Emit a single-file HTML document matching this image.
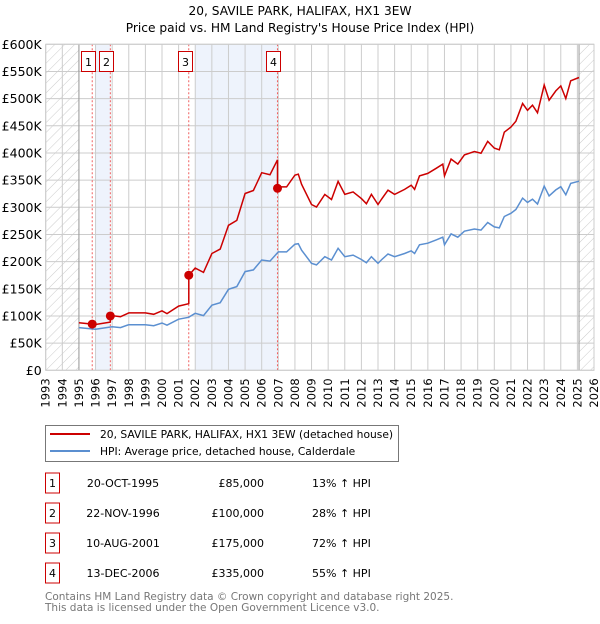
<!DOCTYPE html>
<html><head><meta charset="utf-8"><style>
body{margin:0;background:#fff;font-family:"DejaVu Sans","Liberation Sans",sans-serif;}
svg text{font-family:"DejaVu Sans","Liberation Sans",sans-serif;}
</style></head><body>
<svg id="chart" width="600" height="620" xmlns="http://www.w3.org/2000/svg">
<defs><pattern id="hatch" patternUnits="userSpaceOnUse" width="7" height="7" patternTransform="rotate(45)"><line x1="0" y1="0" x2="0" y2="7" stroke="#ccc" stroke-width="1"/></pattern></defs>
<text x="300" y="15" text-anchor="middle" font-size="12.2">20, SAVILE PARK, HALIFAX, HX1 3EW</text>
<text x="300" y="32" text-anchor="middle" font-size="12.2">Price paid vs. HM Land Registry's House Price Index (HPI)</text>
<g id="plot"></g>
<g>
<rect x="45.5" y="425.5" width="353" height="36" fill="#fff" stroke="#777"/>
<line x1="50" y1="434" x2="90" y2="434" stroke="#cc0000" stroke-width="2"/>
<text x="100" y="438" font-size="10.7">20, SAVILE PARK, HALIFAX, HX1 3EW (detached house)</text>
<line x1="50" y1="451" x2="90" y2="451" stroke="#5b8fd0" stroke-width="2"/>
<text x="100" y="455" font-size="10.7">HPI: Average price, detached house, Calderdale</text>
</g>
<g id="table" font-size="11"></g>
<text x="45" y="600" font-size="10.5" fill="#777">Contains HM Land Registry data © Crown copyright and database right 2025.</text>
<text x="45" y="611" font-size="10.5" fill="#777">This data is licensed under the Open Government Licence v3.0.</text>
</svg>
<script>
const hpiYears=[1995,1996,1997,1997.5,1998,1999,1999.5,2000,2000.3,2001,2001.6,2002,2002.5,2003,2003.5,2004,2004.5,2005,2005.5,2006,2006.5,2007,2007.5,2008,2008.2,2008.4,2009,2009.3,2009.8,2010.2,2010.6,2011,2011.5,2012,2012.3,2012.6,2013,2013.2,2013.6,2014,2014.6,2015,2015.2,2015.5,2016,2016.5,2016.9,2017,2017.4,2017.8,2018.2,2018.8,2019.2,2019.6,2020,2020.3,2020.6,2021,2021.3,2021.7,2022,2022.3,2022.6,2023,2023.3,2023.7,2024,2024.3,2024.6,2025.1];
const hpiValues=[78.5,75.5,80,78.5,84,84,82,87,83,94,97.5,105,100.6,120,124.5,149,154,181.6,184.7,203,201,218,218,232,233,221,197,194,209,203,224.5,209,212,204,198,209,197,203,214,209,215,220,215,231,234,240,245,231,251,245,256,260,258,272,264,262,283,289,296,317,309,315,306,339,321,332,338,323,344,348];
const saleLabels=["1","2","3","4"];
const saleYears=[1995.8,1996.89,2001.61,2006.95];
const salePrices=[85,100,175,335];
const saleDates=["20-OCT-1995","22-NOV-1996","10-AUG-2001","13-DEC-2006"];
const salePriceText=["£85,000","£100,000","£175,000","£335,000"];
const saleHpiText=["13% ↑ HPI","28% ↑ HPI","72% ↑ HPI","55% ↑ HPI"];
const yTicks=[0,50,100,150,200,250,300,350,400,450,500,550,600];
const yTickLabels=["£0","£50K","£100K","£150K","£200K","£250K","£300K","£350K","£400K","£450K","£500K","£550K","£600K"];

const NS="http://www.w3.org/2000/svg";
const X0=45.7,X1=594,Y0=370.3,Y1=44.3,YR0=1993,YR1=2026;
const xs=y=>X0+(y-YR0)/(YR1-YR0)*(X1-X0);
const ys=v=>Y0-v/600*(Y0-Y1);
function mk(tag,attrs,parent){const e=document.createElementNS(NS,tag);for(const k in attrs)e.setAttribute(k,attrs[k]);parent.appendChild(e);return e;}
function hpiAt(y){for(let i=0;i<hpiYears.length-1;i++){if(y>=hpiYears[i]&&y<=hpiYears[i+1]){const t=(y-hpiYears[i])/(hpiYears[i+1]-hpiYears[i]);return hpiValues[i]+t*(hpiValues[i+1]-hpiValues[i]);}}return hpiValues[hpiValues.length-1];}
const plot=document.getElementById('plot');
let r=mk('rect',{x:xs(1996),y:Y1,width:xs(saleYears[1])-xs(1996),height:Y0-Y1,fill:'#eef3fc'},plot);

r=mk('rect',{x:xs(2002),y:Y1,width:xs(saleYears[3])-xs(2002),height:Y0-Y1,fill:'#eef3fc'},plot);

for(let yr=YR0;yr<=YR1;yr++){const l=mk('line',{x1:xs(yr),x2:xs(yr),y1:Y1,y2:Y0,stroke:'#ccc'},plot);
 const t=mk('text',{transform:`translate(${xs(yr)+4},${Y0+8}) rotate(-90)`,'text-anchor':'end','font-size':'11.5'},plot);t.textContent=yr;}
yTicks.forEach((v,i)=>{const l=mk('line',{x1:X0,x2:X1,y1:ys(v),y2:ys(v),stroke:'#ccc'},plot);
 const t=mk('text',{x:X0-4,y:ys(v)+4.5,'text-anchor':'end','font-size':'12.5'},plot);t.textContent=yTickLabels[i];});
r=mk('rect',{x:X0,y:Y1,width:xs(1995)-X0,height:Y0-Y1,fill:'url(#hatch)'},plot);
r=mk('rect',{x:xs(2025.1),y:Y1,width:X1-xs(2025.1),height:Y0-Y1,fill:'url(#hatch)'},plot);
let l=mk('line',{x1:xs(1995),x2:xs(1995),y1:Y1,y2:Y0,stroke:'#999'},plot);
l=mk('line',{x1:xs(2025.1),x2:xs(2025.1),y1:Y1,y2:Y0,stroke:'#999'},plot);
saleYears.forEach((y,i)=>{const v=mk('line',{x1:xs(y),x2:xs(y),y1:Y1,y2:Y0,stroke:'#f06060','stroke-dasharray':'2,2'},plot);});
let d=hpiYears.map((y,i)=>(i?'L':'M')+xs(y).toFixed(1)+','+ys(hpiValues[i]).toFixed(1)).join('');
let p=mk('path',{d:d,fill:'none',stroke:'#5b8fd0','stroke-width':1.5},plot);
function ratioAt(y){let k=0;for(let i=0;i<saleYears.length;i++)if(y>=saleYears[i])k=i;return salePrices[k]/hpiAt(saleYears[k]);}
const pts=[];
hpiYears.forEach((y,i)=>{saleYears.forEach((s,j)=>{if(i>0&&s>hpiYears[i-1]&&s<=y){pts.push([s,hpiAt(s)*(salePrices[Math.max(j-1,0)]/hpiAt(saleYears[Math.max(j-1,0)]))]);pts.push([s,salePrices[j]]);}});pts.push([y,hpiValues[i]*ratioAt(y)]);});
d=pts.map((q,i)=>(i?'L':'M')+xs(q[0]).toFixed(1)+','+ys(q[1]).toFixed(1)).join('');
p=mk('path',{d:d,fill:'none',stroke:'#cc0000','stroke-width':1.5},plot);
saleYears.forEach((y,i)=>{const c=mk('circle',{cx:xs(y),cy:ys(salePrices[i]),r:4.5,fill:'#cc0000'},plot);
 const bx=mk('rect',{x:Math.round(xs(y)-11)+0.5,y:51.5,width:14,height:20,fill:'#fff',stroke:'#cc0000'},plot);
 const t=mk('text',{x:+bx.getAttribute('x')+7,y:66,'text-anchor':'middle','font-size':'11'},plot);t.textContent=saleLabels[i];});
let fr=mk('rect',{x:X0,y:Y1,width:X1-X0,height:Y0-Y1,fill:'none',stroke:'#ccc'},plot);
const tb=document.getElementById('table');
saleLabels.forEach((s,i)=>{const cy=483+i*30;
 const b=mk('rect',{x:45.5,y:cy-10,width:14,height:20,fill:'#fff',stroke:'#cc0000'},tb);
 let t=mk('text',{x:52.5,y:cy+4,'text-anchor':'middle'},tb);t.textContent=s;
 t=mk('text',{x:123,y:cy+4,'text-anchor':'middle'},tb);t.textContent=saleDates[i];
 t=mk('text',{x:264,y:cy+4,'text-anchor':'end'},tb);t.textContent=salePriceText[i];
 t=mk('text',{x:312,y:cy+4},tb);t.textContent=saleHpiText[i];});
</script>
</body></html>
